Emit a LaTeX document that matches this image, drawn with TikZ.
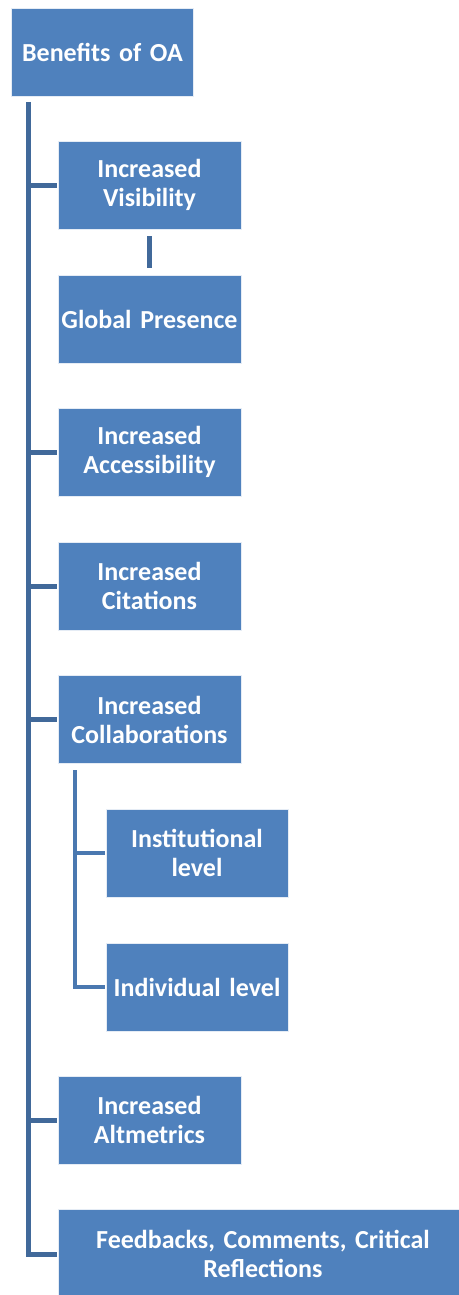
\documentclass[tikz,border=0pt]{standalone}
\usepackage{fontspec}
\setmainfont{Carlito}
\definecolor{boxblue}{HTML}{4F81BD}
\definecolor{lineblue}{HTML}{41699A}
\definecolor{sublineblue}{HTML}{4A78B0}
\begin{document}
\begin{tikzpicture}[x=1pt,y=-1pt,
  box/.style={rectangle, fill=boxblue, draw=white!85!boxblue, line width=0.6pt,
    text=white, font=\fontsize{26}{29}\selectfont\bfseries, align=center,
    inner sep=2pt, minimum width=183pt, minimum height=88pt, text width=178pt},
  mainline/.style={draw=lineblue, line width=5pt},
  subline/.style={draw=sublineblue, line width=4pt}]
\useasboundingbox (0,0) rectangle (458,1295);
\node[box, minimum width=182pt] (root) at (102.5,52) {Benefits of OA};
\node[box] (vis) at (149.5,185) {Increased\\Visibility};
\node[box] (glob) at (149.5,319) {Global Presence};
\node[box] (acc) at (149.5,452) {Increased\\Accessibility};
\node[box] (cit) at (149.5,586) {Increased\\Citations};
\node[box] (col) at (149.5,719.5) {Increased\\Collaborations};
\node[box, minimum width=182pt] (inst) at (197,853) {Institutional\\level};
\node[box, minimum width=182pt] (ind) at (197,987) {Individual level};
\node[box] (alt) at (149.5,1120) {Increased\\Altmetrics};
\node[box, minimum width=410pt, text width=400pt, minimum height=90pt] (fb) at (263,1254) {Feedbacks, Comments, Critical\\Reflections};
\coordinate (top) at (28,102);
\coordinate (top2) at (75,770);
\draw[mainline] (top) |- ([xshift=-1pt]fb.west);
\foreach \n in {vis,acc,cit,col,alt}
  \draw[mainline] (top |- \n.west) -- ([xshift=-1pt]\n.west);
\draw[mainline, shorten <=7pt, shorten >=7pt] (vis.south) -- (glob.north);
\draw[subline] (top2) |- ([xshift=-1pt]ind.west);
\draw[subline] (top2 |- inst.west) -- ([xshift=-1pt]inst.west);
\end{tikzpicture}
\end{document}
